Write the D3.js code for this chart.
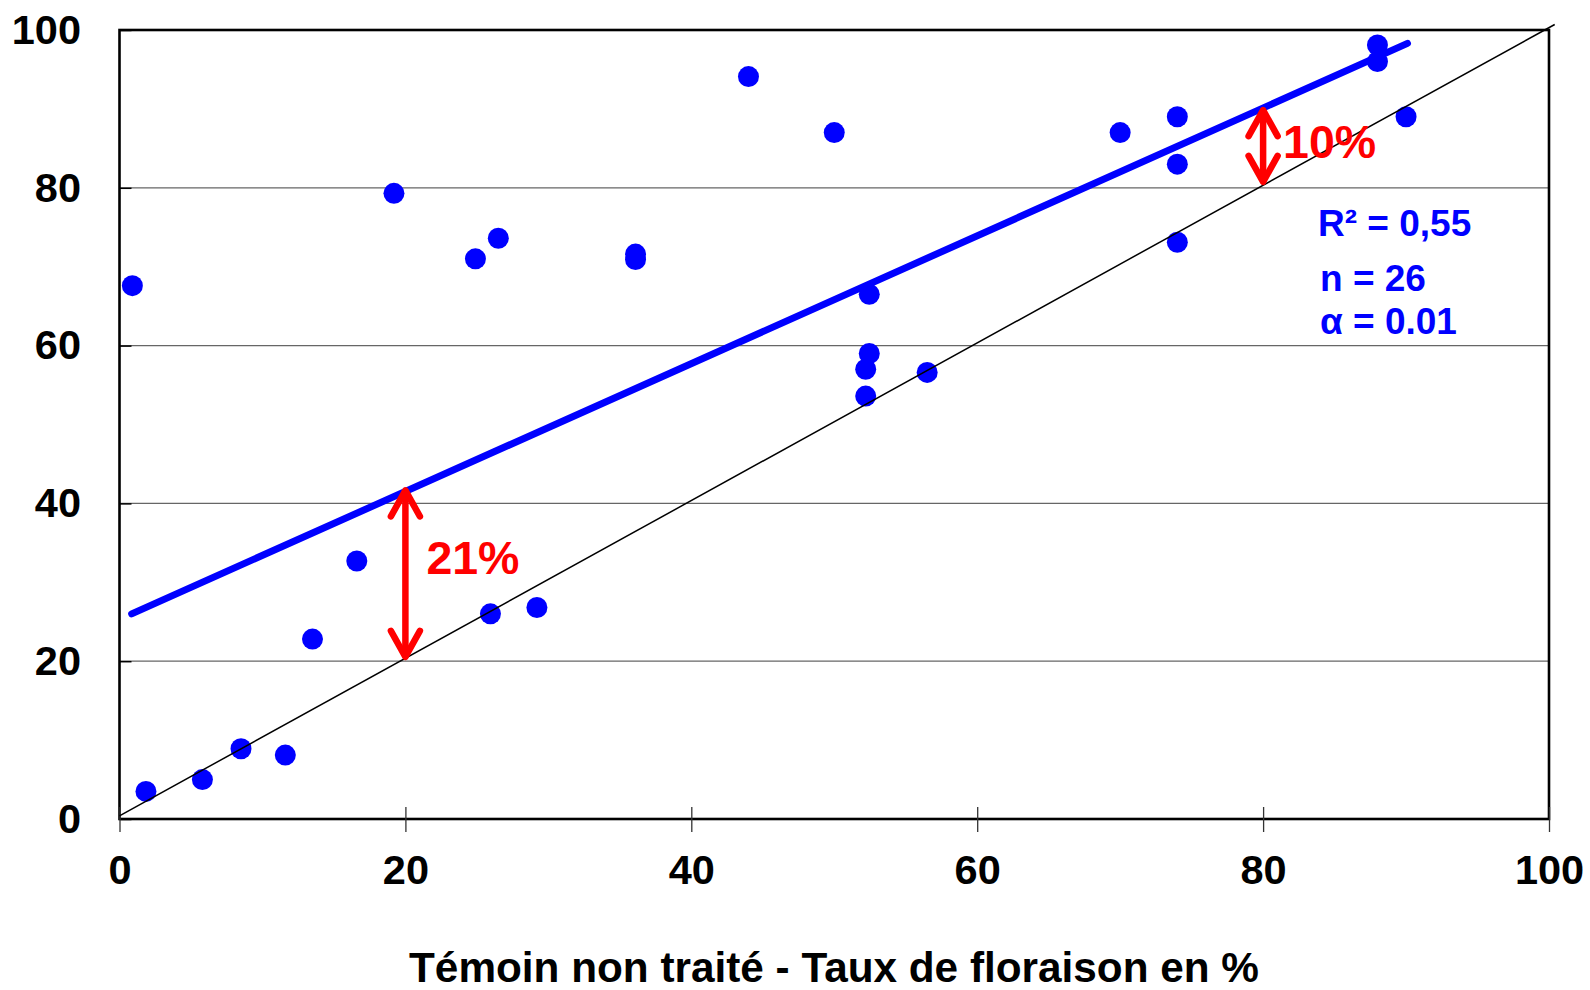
<!DOCTYPE html>
<html>
<head>
<meta charset="utf-8">
<script src="https://cdn.jsdelivr.net/npm/d3@7"></script>
<style>
  html, body { margin: 0; padding: 0; background: #fff; }
  svg { display: block; }
  text { font-family: "Liberation Sans", Arial, sans-serif; font-weight: bold; }
</style>
</head>
<body>
<svg id="chart" width="1590" height="990"></svg>
<script>
// ---- data ----
const temoinX = [0.9, 1.85, 5.8, 8.5, 11.6, 13.5, 16.6, 19.2, 24.9, 26.5, 25.95, 29.2, 36.1, 36.1, 44.0, 50.0,
                 52.45, 52.45, 52.2, 52.2, 56.5, 70.0, 74.0, 74.0, 74.0, 88.0, 88.0, 90.0];
const traiteY = [67.6, 3.5, 5.0, 8.9, 8.1, 22.8, 32.7, 79.3, 71.0, 73.6, 26.0, 26.8, 71.6, 70.9, 94.1, 87.0,
                 66.5, 59.0, 57.0, 53.6, 56.6, 87.0, 89.0, 83.0, 73.1, 98.1, 96.0, 89.0];
const trendX = [0.85, 90.1];
const trendY = [26.0, 98.3];
const diagX = [0, 100.4];
const diagY = [0.4, 100.7];
const arrowX = [20, 80];
const arrowLow = [20.3, 80.5];
const arrowHigh = [41.9, 90.1];
const arrowLabels = ["21%", "10%"];
const xTicks = [0, 20, 40, 60, 80, 100];
const yTicks = [0, 20, 40, 60, 80, 100];
const gridValues = [20, 40, 60, 80];
const statLines = ["R\u00b2 = 0,55", "n = 26", "\u03b1 = 0.01"];
const xTitle = "Témoin non traité - Taux de floraison en %";

// ---- layout ----
const svg = d3.select("#chart");
const x = d3.scaleLinear().domain([0, 100]).range([119.5, 1549]);
const y = d3.scaleLinear().domain([0, 100]).range([819, 30]);
const BLUE = "#0000ff", RED = "#ff0000";

// gridlines
svg.append("g").selectAll("line").data(gridValues).join("line")
  .attr("x1", x(0)).attr("x2", x(100))
  .attr("y1", d => y(d)).attr("y2", d => y(d))
  .attr("stroke", "#666").attr("stroke-width", 1.3);

// frame
svg.append("rect")
  .attr("x", x(0)).attr("y", y(100))
  .attr("width", x(100) - x(0)).attr("height", y(0) - y(100))
  .attr("fill", "none").attr("stroke", "#000").attr("stroke-width", 2.6);

// y axis
const yAxis = svg.append("g").attr("transform", `translate(${x(0)},0)`)
  .call(d3.axisLeft(y).tickValues(yTicks).tickSize(-12).tickPadding(38.5));
yAxis.select(".domain").remove();
yAxis.selectAll(".tick line").attr("stroke", "#000").attr("stroke-width", 1.5);
yAxis.selectAll(".tick text").attr("font-size", 41.5).attr("fill", "#000")
  .style("font-family", '"Liberation Sans", Arial, sans-serif').style("font-weight", "bold");

// x axis
const xAxis = svg.append("g").attr("transform", `translate(0,${y(0)})`)
  .call(d3.axisBottom(x).tickValues(xTicks).tickSize(13).tickPadding(23));
xAxis.select(".domain").remove();
xAxis.selectAll(".tick line").attr("y1", -12).attr("stroke", "#333").attr("stroke-width", 1.3);
xAxis.selectAll(".tick text").attr("font-size", 41.5).attr("fill", "#000")
  .style("font-family", '"Liberation Sans", Arial, sans-serif').style("font-weight", "bold");

// regression line
const line = d3.line().x(d => x(d[0])).y(d => y(d[1]));
svg.append("path")
  .datum(d3.zip(trendX, trendY))
  .attr("d", line)
  .attr("fill", "none").attr("stroke", BLUE).attr("stroke-width", 7)
  .attr("stroke-linecap", "round");

// points
svg.append("g").selectAll("circle").data(d3.zip(temoinX, traiteY)).join("circle")
  .attr("cx", d => x(d[0])).attr("cy", d => y(d[1])).attr("r", 10.5)
  .attr("fill", BLUE);

// 1:1 line
svg.append("path")
  .datum(d3.zip(diagX, diagY))
  .attr("d", line)
  .attr("fill", "none").attr("stroke", "#000").attr("stroke-width", 1.5);

// arrows
const arrows = svg.append("g");
arrowX.forEach((ax, i) => {
  const px = x(ax), top = y(arrowHigh[i]), bot = y(arrowLow[i]);
  const g = arrows.append("g").attr("stroke", RED).attr("stroke-width", 6.5)
    .attr("fill", "none").attr("stroke-linecap", "round").attr("stroke-linejoin", "round");
  g.append("line").attr("x1", px).attr("x2", px).attr("y1", top + 3).attr("y2", bot - 3);
  g.append("path").attr("d", `M${px - 14.5},${top + 28} L${px},${top + 2} L${px + 14.5},${top + 28}`);
  g.append("path").attr("d", `M${px - 14.5},${bot - 28} L${px},${bot - 2} L${px + 14.5},${bot - 28}`);
});
// arrow labels
const labelOffsets = [21, 20];
arrowLabels.forEach((t, i) => {
  svg.append("text")
    .attr("x", x(arrowX[i]) + labelOffsets[i])
    .attr("y", i === 0 ? (y(arrowLow[i]) + y(arrowHigh[i])) / 2 : y(arrowLow[i]) - 26)
    .attr("font-size", 46.5).attr("fill", RED).text(t);
});

// stats
const statBaselines = [236, 291, 334];
svg.append("g").selectAll("text").data(statLines).join("text")
  .attr("x", (d, i) => i === 0 ? 1318 : 1320)
  .attr("y", (d, i) => statBaselines[i])
  .attr("font-size", 37).attr("fill", BLUE).text(d => d);

// x title
svg.append("text")
  .attr("x", 834).attr("y", 982).attr("text-anchor", "middle")
  .attr("font-size", 42.3).attr("fill", "#000").text(xTitle);
</script>
</body>
</html>
